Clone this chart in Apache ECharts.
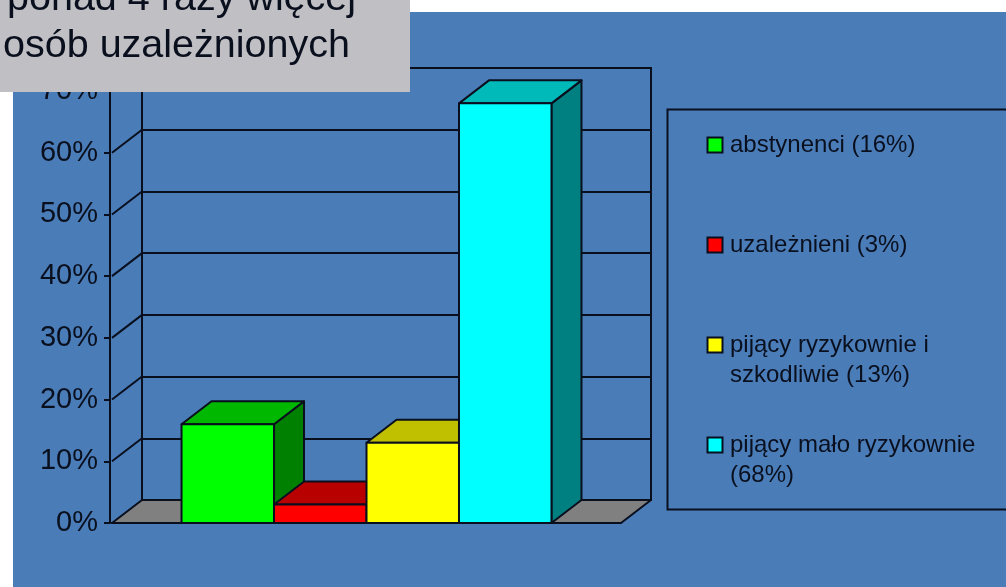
<!DOCTYPE html>
<html>
<head>
<meta charset="utf-8">
<title>Wykres</title>
<script src="https://cdn.jsdelivr.net/npm/echarts@6/dist/echarts.min.js"></script>
<style>
html,body{margin:0;padding:0;background:#fff;}
#chart{width:1006px;height:587px;filter:blur(0.5px);}
</style>
</head>
<body>
<div id="chart"></div>
<script>
var categories = [''];
var seriesNames = ['abstynenci', 'uzależnieni', 'pijący ryzykownie i szkodliwie', 'pijący mało ryzykownie'];
var seriesValues = [16, 3, 13, 68];
var legendLabels = ['abstynenci (16%)', 'uzależnieni (3%)', 'pijący ryzykownie i\nszkodliwie (13%)', 'pijący mało ryzykownie\n(68%)'];
var tickValues = [0, 10, 20, 30, 40, 50, 60, 70];
var titleLines = ['ponad 4 razy więcej', 'osób uzależnionych'];

var frontColors = ['#00ff00', '#ff0000', '#ffff00', '#00ffff'];
var topColors = ['#00b800', '#b80000', '#c0c000', '#00baba'];
var sideColors = ['#008000', '#800000', '#808000', '#008080'];

var ink = '#0a0f1e';
var depthX = 30, depthY = -23;
var barFrac = 0.1817;

function line(x1, y1, x2, y2) {
	return {type: 'line', shape: {x1: x1, y1: y1, x2: x2, y2: y2}, style: {stroke: ink, lineWidth: 2}};
}

function poly(points, fill) {
	return {type: 'polygon', shape: {points: points}, style: {fill: fill, stroke: ink, lineWidth: 2, lineJoin: 'round'}};
}

function renderFloor(params, api) {
	var cs = params.coordSys;
	var y0 = api.coord([0, 0])[1];
	return poly([[cs.x, y0], [cs.x + depthX, y0 + depthY], [cs.x + cs.width + depthX, y0 + depthY], [cs.x + cs.width, y0]], '#808080');
}

function renderSlant(params, api) {
	var cs = params.coordSys;
	var y = api.coord([0, api.value(1)])[1];
	return line(cs.x, y, cs.x + depthX, y + depthY);
}

function barRenderer(i) {
	return function(params, api) {
		var top = api.coord([0, api.value(1)]);
		var base = api.coord([0, 0]);
		var w = api.size([1, 0])[0] * barFrac;
		var x = top[0] + (i - 2) * w;
		var y = top[1];
		return {
			type: 'group',
			children: [
				poly([[x + w, y], [x + w + depthX, y + depthY], [x + w + depthX, base[1] + depthY], [x + w, base[1]]], sideColors[i]),
				poly([[x, y], [x + depthX, y + depthY], [x + w + depthX, y + depthY], [x + w, y]], topColors[i]),
				poly([[x, y], [x + w, y], [x + w, base[1]], [x, base[1]]], frontColors[i])
			]
		};
	};
}

var series = [
	{type: 'custom', name: 'podłoga', xAxisIndex: 0, yAxisIndex: 0, clip: false, silent: true, data: [[0, 0]], renderItem: renderFloor},
	{type: 'custom', name: 'linie', xAxisIndex: 0, yAxisIndex: 0, clip: false, silent: true,
		data: tickValues.slice(1).map(function(v) { return [0, v]; }), renderItem: renderSlant}
];
for (var i = 0; i < seriesValues.length; i++) {
	series.push({
		type: 'custom', name: seriesNames[i], xAxisIndex: 0, yAxisIndex: 0, clip: false,
		data: [[0, seriesValues[i]]], renderItem: barRenderer(i)
	});
}

var legendRowY = [145, 245, 345, 445];
var graphics = [
	{type: 'rect', z: -10, shape: {x: 13, y: 12, width: 993, height: 575}, style: {fill: '#4a7db8'}},
	{type: 'rect', z: 1, shape: {x: 667.5, y: 109.5, width: 345, height: 400}, style: {fill: 'transparent', stroke: ink, lineWidth: 2}},
	{type: 'rect', z: 100, shape: {x: 0, y: 0, width: 410, height: 92}, style: {fill: '#c0bfc4'}},
	{type: 'text', z: 101, style: {x: 7, y: -21, text: titleLines[0], fill: ink, fontFamily: 'Liberation Sans', fontSize: 39.5, textVerticalAlign: 'top'}},
	{type: 'text', z: 101, style: {x: 3, y: 26, text: titleLines[1], fill: ink, fontFamily: 'Liberation Sans', fontSize: 39.5, textVerticalAlign: 'top'}}
];
legendLabels.forEach(function(label, i) {
	graphics.push({type: 'rect', z: 5, shape: {x: 707.5, y: legendRowY[i] - 7.5, width: 15, height: 15}, style: {fill: frontColors[i], stroke: ink, lineWidth: 2}});
	graphics.push({type: 'text', z: 5, style: {x: 730, y: legendRowY[i] - 15, text: label, fill: ink, fontFamily: 'Liberation Sans', fontSize: 24, lineHeight: 30, textVerticalAlign: 'top'}});
});

var option = {
	backgroundColor: '#ffffff',
	animation: false,
	graphic: {elements: graphics},
	grid: [
		{left: 112, top: 91, width: 509, height: 432},
		{left: 142, top: 68, width: 509, height: 432, show: true, borderColor: ink, borderWidth: 2, backgroundColor: 'transparent'}
	],
	xAxis: [
		{type: 'category', gridIndex: 0, data: categories, axisTick: {show: false}, axisLabel: {show: false}, axisLine: {lineStyle: {color: ink, width: 2}}},
		{type: 'category', gridIndex: 1, data: categories, axisTick: {show: false}, axisLabel: {show: false}, axisLine: {show: false}}
	],
	yAxis: [
		{
			type: 'value', gridIndex: 0, min: 0, max: 70, interval: 10, offset: 2,
			splitLine: {show: false},
			axisLine: {show: true, lineStyle: {color: ink, width: 2}},
			axisTick: {show: true, length: 6, lineStyle: {color: ink, width: 2}},
			axisLabel: {formatter: '{value}%', color: ink, fontFamily: 'Liberation Sans', fontSize: 29, margin: 12, padding: [4, 0, 0, 0]}
		},
		{
			type: 'value', gridIndex: 1, min: 0, max: 70, interval: 10,
			splitLine: {show: true, lineStyle: {color: ink, width: 2}},
			axisLine: {show: false}, axisTick: {show: false}, axisLabel: {show: false}
		}
	],
	series: series
};

var myChart = echarts.init(document.getElementById('chart'));
myChart.setOption(option);
</script>
</body>
</html>
